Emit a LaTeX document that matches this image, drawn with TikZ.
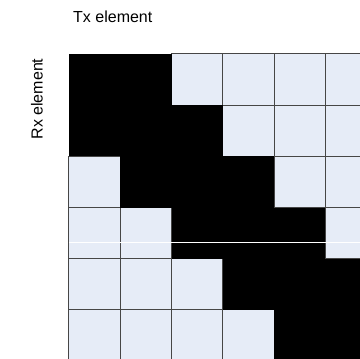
\documentclass[tikz,border=0pt]{standalone}
\usepackage{fontspec}
\setmainfont{Liberation Sans}
\usepackage{xcolor}
\definecolor{cellfill}{RGB}{230,236,247}
\definecolor{cellline}{RGB}{70,70,70}

\begin{document}
\begin{tikzpicture}[
    x=1pt, y=-1pt,
    every node/.style={font=\fontsize{16}{19}\selectfont},
    lightcell/.style={rectangle, minimum size=51.3pt, inner sep=0pt, outer sep=0pt, draw=cellline, line width=1pt, fill=cellfill},
    darkcell/.style={rectangle, minimum size=51.3pt, inner sep=0pt, outer sep=0pt, fill=black},
    axislabel/.style={inner sep=0pt}
]
\useasboundingbox (0,0) rectangle (360,359);
\clip (0,0) rectangle (360,359);

\node (tx) [axislabel, anchor=base west] at (73,22) {Tx element};
\node (rx) [axislabel, rotate=90] at (37,99) {Rx element};

% light cells first, then the black band
\foreach \r in {0,...,5} {
  \foreach \c in {0,...,5} {
    \pgfmathtruncatemacro{\d}{abs(\r-\c)}
    \ifnum\d>1
      \node (c\r\c) [lightcell] at ({69+51.3*\c+25.65},{54+51.2*\r+25.6}) {};
    \fi
  }
}
\foreach \r in {0,...,5} {
  \foreach \c in {0,...,5} {
    \pgfmathtruncatemacro{\d}{abs(\r-\c)}
    \ifnum\d<2
      \node (c\r\c) [darkcell] at ({69+51.3*\c+25.65},{54+51.2*\r+25.6}) {};
    \fi
  }
}

\draw [white, line width=0.7pt] (c30.west |- 0,242) -- (360,242);

\end{tikzpicture}
\end{document}
